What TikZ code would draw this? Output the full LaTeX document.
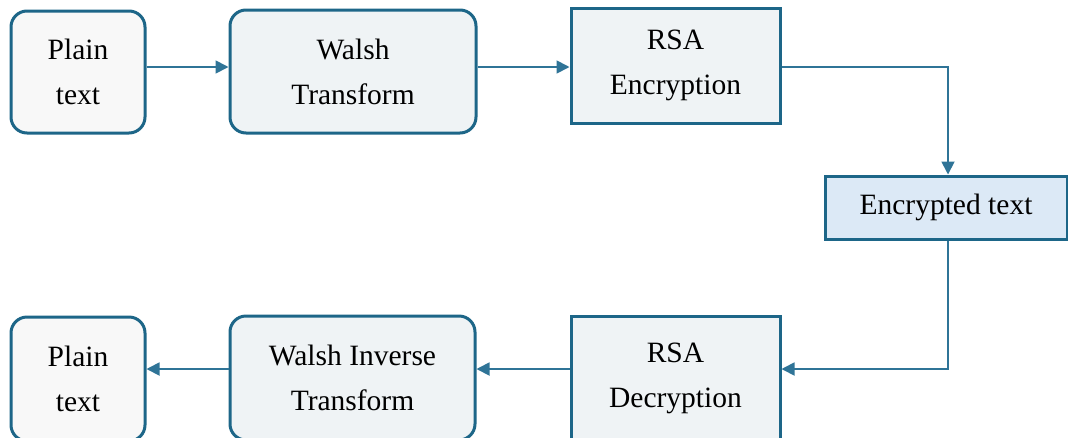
\documentclass[tikz,border=0pt]{standalone}
\usepackage{fontspec}
\setmainfont{Liberation Serif}
\usetikzlibrary{arrows.meta}
\definecolor{bord}{HTML}{1D6688}
\definecolor{lineC}{HTML}{2F7497}
\definecolor{fillA}{HTML}{F8F8F8}
\definecolor{fillB}{HTML}{EFF3F5}
\definecolor{fillC}{HTML}{DCE9F6}
\begin{document}
\begin{tikzpicture}[x=1pt,y=-1pt,
  box/.style={draw=bord,line width=3pt,align=center,font=\fontsize{29.5}{45}\selectfont,inner sep=0pt},
  rbox/.style={box,rounded corners=16pt},
  conn/.style={draw=lineC,line width=1.8pt,-{Triangle[length=13pt,width=13pt]}}]
\useasboundingbox (0,0) rectangle (1068,437);
\node[rbox,fill=fillA,minimum width=134pt,minimum height=122pt] (p1) at (78,72) {Plain\\text};
\node[rbox,fill=fillB,minimum width=246pt,minimum height=123pt] (w1) at (353,71.5) {Walsh\\Transform};
\node[box,fill=fillB,minimum width=209pt,minimum height=115pt] (r1) at (675.5,65.5) {RSA\\Encryption};
\node[box,fill=fillC,minimum width=242pt,minimum height=63pt] (e) at (946,207.5) {Encrypted text};
\node[box,fill=fillB,minimum width=209pt,minimum height=124pt] (r2) at (675.5,378) {RSA\\Decryption};
\node[rbox,fill=fillB,minimum width=245pt,minimum height=124pt] (w2) at (352.5,378) {Walsh Inverse\\Transform};
\node[rbox,fill=fillA,minimum width=134pt,minimum height=124pt] (p2) at (78,379) {Plain\\text};
\draw[conn] (p1.east |- 0,67) -- (w1.west |- 0,67);
\draw[conn] (w1.east |- 0,67) -- (r1.west |- 0,67);
\coordinate (c1) at (948,67);
\draw[conn] (r1.east |- c1) -- (c1) -- (c1 |- e.north);
\coordinate (c2) at (948,369);
\draw[conn] (c2 |- e.south) -- (c2) -- (r2.east |- c2);
\draw[conn] (r2.west |- 0,369) -- (w2.east |- 0,369);
\draw[conn] (w2.west |- 0,369) -- (p2.east |- 0,369);
\end{tikzpicture}
\end{document}
